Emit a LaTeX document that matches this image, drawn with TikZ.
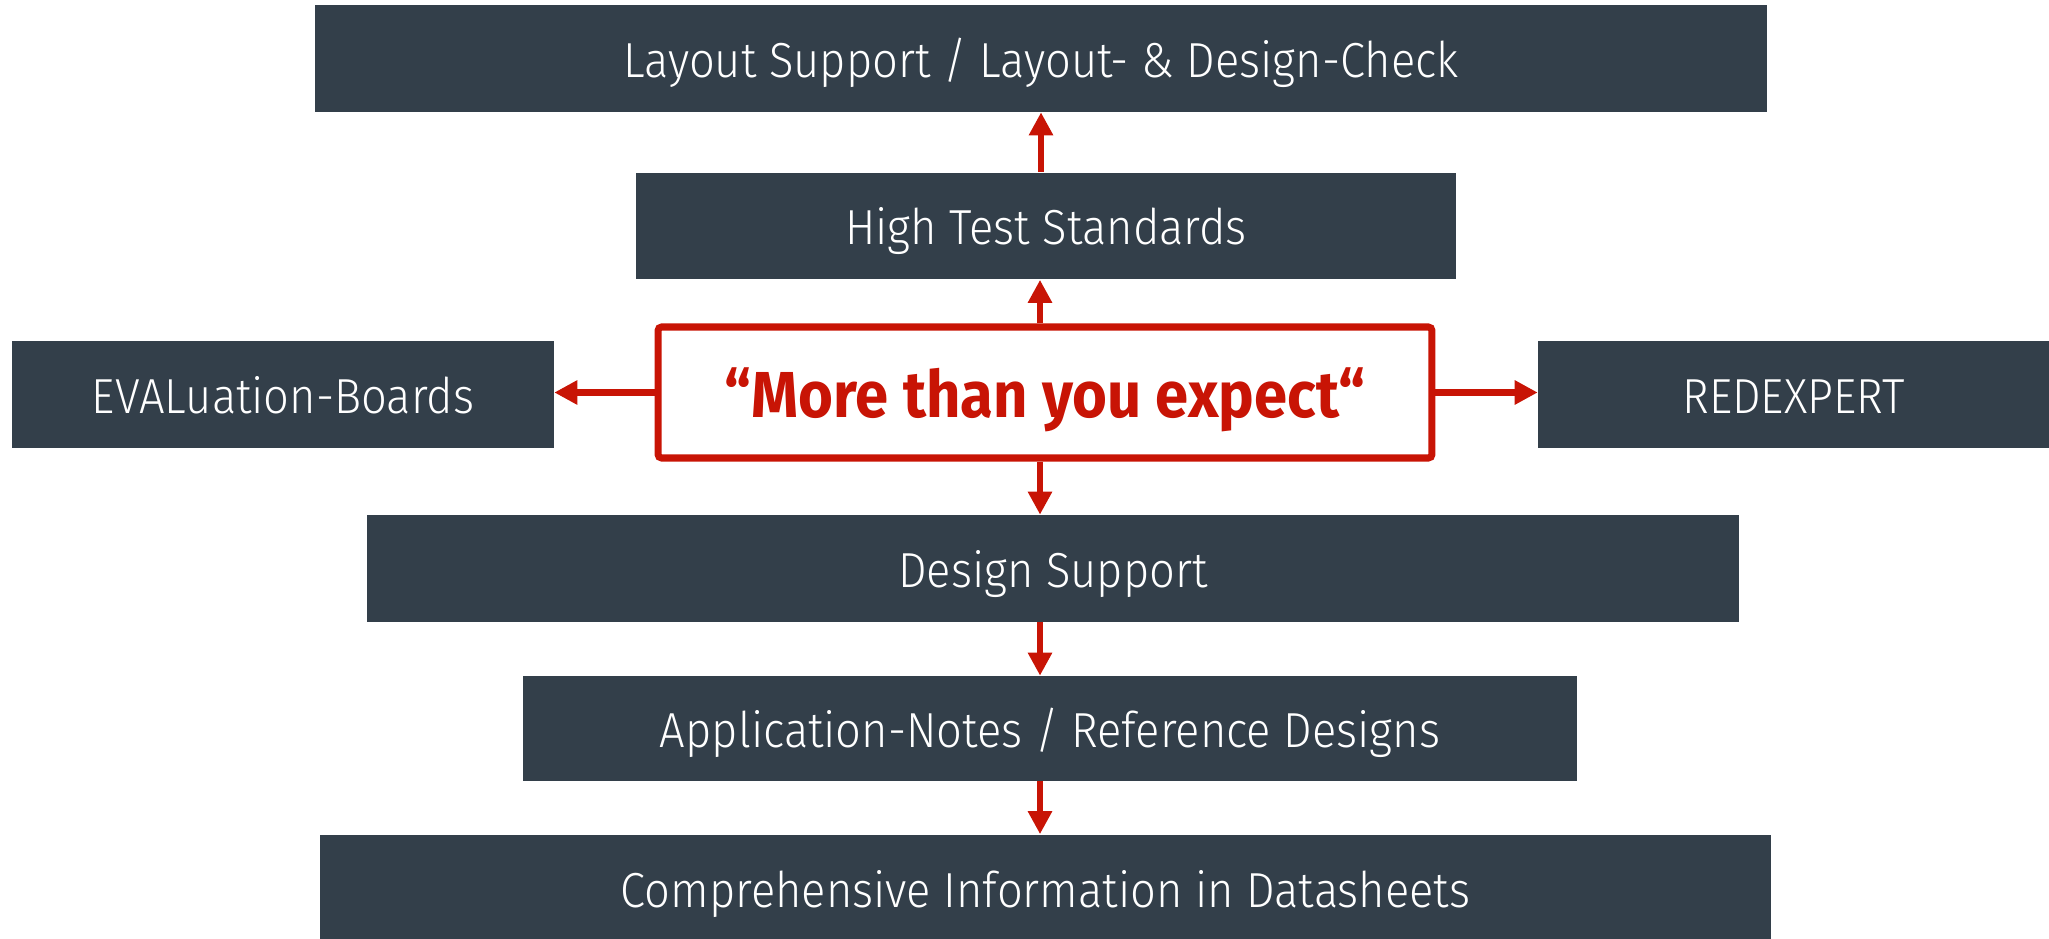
\documentclass[tikz,border=0pt]{standalone}
\usepackage{fontspec}
\setmainfont{Fira Sans Light}[FakeStretch=0.92]
\newfontfamily\mottofont{Fira Sans Bold}[FakeStretch=0.92]
\usetikzlibrary{arrows.meta,positioning}
\definecolor{slatec}{HTML}{333F4A}
\definecolor{redc}{HTML}{C81405}
\tikzset{
  ar/.style={-{Triangle[length=4.6mm,width=4.6mm]},line width=3.6pt,redc},
  box/.style={fill=slatec,text=white,inner sep=0pt,minimum height=2.14cm,
    text height=0.76cm,text depth=0pt,font=\fontsize{28}{32}\selectfont},
  motto/.style={draw=redc,line width=4pt,rounded corners=2pt,fill=white,text=redc,inner sep=0pt,
    minimum width=15.48cm,minimum height=2.62cm,text height=1.02cm,text depth=0pt,
    font=\mottofont\fontsize{37}{42}\selectfont}
}
\begin{document}
\begin{tikzpicture}[x=0.02cm,y=-0.02cm]
\useasboundingbox (0,0) rectangle (2049,939);
% boxes, top to bottom
\node[box,minimum width=29.04cm] (lay) at (1041,58.5) {Layout Support / Layout- \& Design-Check};
\node[box,minimum width=16.4cm] (hts) at (1046,226) {High Test Standards};
\node[motto] (core) at (1045,392.5) {“More than you expect“};
\node[box,minimum width=10.84cm] (eval) at (283,394.5) {EVALuation-Boards};
\node[box,minimum width=10.22cm] (redx) at (1793.5,394.5) {REDEXPERT};
\node[box,minimum width=27.44cm] (dsup) at (1053,568.5) {Design Support};
\node[box,minimum width=21.08cm,minimum height=2.1cm] (appn) at (1050,728.5) {Application-Notes / Reference Designs};
\node[box,minimum width=29.02cm] (info) at (1045.5,888) {Comprehensive Information in Datasheets};
% connectors
\draw[ar] ([xshift=-0.1cm]hts.north) -- ([xshift=-0.1cm]hts.north |- lay.south);
\draw[ar] ([xshift=-0.1cm]core.north) -- ([xshift=-0.1cm]core.north |- hts.south);
\draw[ar] ([xshift=-0.1cm]core.south) -- ([xshift=-0.1cm]core.south |- dsup.north);
\draw[ar] ([xshift=-0.1cm]core.south |- dsup.south) -- ([xshift=-0.1cm]core.south |- appn.north);
\draw[ar] ([xshift=-0.1cm]core.south |- appn.south) -- ([xshift=-0.1cm]core.south |- info.north);
\draw[ar] (core.west) -- (core.west -| eval.east);
\draw[ar] (core.east) -- (core.east -| redx.west);
\end{tikzpicture}
\end{document}
